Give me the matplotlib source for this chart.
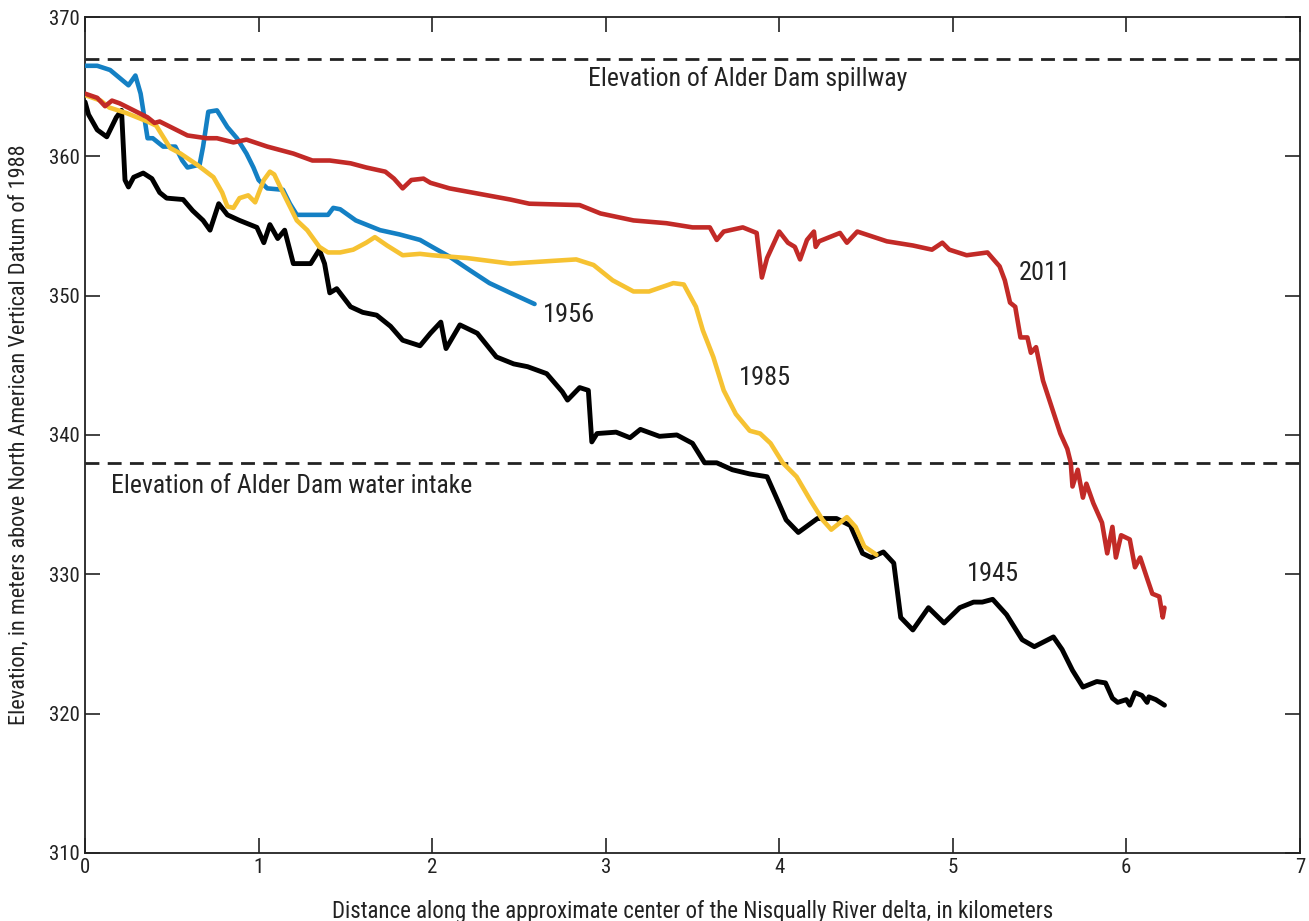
import matplotlib
matplotlib.use("Agg")
from matplotlib import pyplot as plt

plt.rcParams['font.family'] = ['Roboto Condensed', 'Archivo Narrow', 'DejaVu Sans']

# 1945 profile
x_1945 = [0, 0.02, 0.07, 0.125, 0.18, 0.21, 0.23, 0.25, 0.28, 0.335, 0.385, 0.43, 0.47,
          0.565, 0.62, 0.68, 0.72, 0.77, 0.82, 0.89, 0.99, 1.03, 1.065, 1.11, 1.15, 1.20,
          1.30, 1.35, 1.38, 1.41, 1.45, 1.53, 1.60, 1.68, 1.76, 1.83, 1.93, 1.99, 2.05,
          2.07, 2.08, 2.16, 2.26, 2.37, 2.47, 2.55, 2.66, 2.75, 2.78, 2.85, 2.90, 2.92,
          2.95, 3.06, 3.14, 3.20, 3.31, 3.41, 3.50, 3.57, 3.64, 3.73, 3.83, 3.93, 3.98,
          4.04, 4.11, 4.22, 4.33, 4.41, 4.48, 4.53, 4.60, 4.66, 4.70, 4.77, 4.86, 4.95,
          5.04, 5.12, 5.17, 5.23, 5.31, 5.40, 5.47, 5.58, 5.63, 5.69, 5.75, 5.83, 5.88,
          5.92, 5.95, 6.00, 6.02, 6.05, 6.09, 6.12, 6.13, 6.17, 6.22]
y_1945 = [363.9, 363.0, 361.9, 361.4, 362.8, 363.3, 358.3, 357.8, 358.5, 358.8, 358.4,
          357.4, 357.0, 356.9, 356.1, 355.4, 354.7, 356.6, 355.8, 355.4, 354.9, 353.8,
          355.1, 354.1, 354.7, 352.3, 352.3, 353.3, 352.3, 350.2, 350.5, 349.2, 348.8,
          348.6, 347.8, 346.8, 346.4, 347.3, 348.1, 346.8, 346.2, 347.9, 347.3, 345.6,
          345.1, 344.9, 344.4, 343.1, 342.5, 343.4, 343.2, 339.5, 340.1, 340.2, 339.8,
          340.4, 339.9, 340.0, 339.4, 338.0, 338.0, 337.5, 337.2, 337.0, 335.6, 333.9,
          333.0, 334.0, 334.0, 333.5, 331.5, 331.2, 331.6, 330.8, 326.9, 326.0, 327.6,
          326.5, 327.6, 328.0, 328.0, 328.2, 327.1, 325.3, 324.8, 325.5, 324.6, 323.1,
          321.9, 322.3, 322.2, 321.1, 320.8, 321.0, 320.6, 321.5, 321.3, 320.8, 321.2,
          321.0, 320.6]

# 1956 profile
x_1956 = [0, 0.07, 0.144, 0.25, 0.29, 0.32, 0.36, 0.39, 0.45, 0.52, 0.56, 0.59, 0.66,
          0.68, 0.71, 0.76, 0.82, 0.875, 0.93, 0.97, 1.0, 1.05, 1.14, 1.18, 1.22, 1.33,
          1.40, 1.43, 1.47, 1.56, 1.70, 1.81, 1.93, 2.0, 2.10, 2.22, 2.33, 2.45, 2.59]
y_1956 = [366.5, 366.5, 366.2, 365.1, 365.8, 364.5, 361.3, 361.3, 360.7, 360.7, 359.7,
          359.2, 359.4, 360.7, 363.2, 363.3, 362.1, 361.3, 360.2, 359.2, 358.3, 357.7,
          357.6, 356.6, 355.8, 355.8, 355.8, 356.3, 356.2, 355.4, 354.7, 354.4, 354.0,
          353.5, 352.8, 351.8, 350.9, 350.2, 349.4]

# 1985 profile
x_1985 = [0, 0.09, 0.14, 0.24, 0.36, 0.41, 0.45, 0.49, 0.55, 0.645, 0.74, 0.79, 0.82,
          0.855, 0.89, 0.94, 0.98, 1.03, 1.065, 1.09, 1.14, 1.22, 1.28, 1.35, 1.40, 1.47,
          1.545, 1.62, 1.67, 1.74, 1.83, 1.93, 2.0, 2.20, 2.45, 2.70, 2.83, 2.93, 3.04,
          3.16, 3.25, 3.39, 3.45, 3.52, 3.56, 3.62, 3.68, 3.75, 3.83, 3.89, 3.95, 4.02,
          4.10, 4.18, 4.25, 4.30, 4.39, 4.44, 4.49, 4.56]
y_1985 = [364.4, 364.0, 363.5, 363.1, 362.5, 362.2, 361.4, 360.6, 360.2, 359.4, 358.5,
          357.4, 356.4, 356.3, 357.0, 357.2, 356.7, 358.3, 358.9, 358.7, 357.4, 355.4,
          354.7, 353.5, 353.1, 353.1, 353.3, 353.8, 354.2, 353.6, 352.9, 353.0, 352.9,
          352.7, 352.3, 352.5, 352.6, 352.2, 351.1, 350.3, 350.3, 350.9, 350.8, 349.2,
          347.5, 345.6, 343.2, 341.5, 340.3, 340.1, 339.4, 338.0, 337.0, 335.3, 333.9,
          333.2, 334.1, 333.4, 332.0, 331.4]

# 2011 profile
x_2011 = [0, 0.07, 0.115, 0.155, 0.20, 0.28, 0.36, 0.40, 0.43, 0.51, 0.59, 0.70, 0.76,
          0.855, 0.93, 1.05, 1.20, 1.31, 1.41, 1.53, 1.62, 1.73, 1.78, 1.83, 1.88, 1.95,
          1.99, 2.10, 2.45, 2.56, 2.85, 2.97, 3.16, 3.35, 3.50, 3.60, 3.64, 3.68, 3.79,
          3.87, 3.90, 3.93, 4.00, 4.05, 4.09, 4.12, 4.16, 4.20, 4.21, 4.23, 4.35, 4.39,
          4.45, 4.62, 4.77, 4.88, 4.94, 4.98, 5.08, 5.20, 5.27, 5.30, 5.33, 5.36, 5.39,
          5.43, 5.45, 5.48, 5.52, 5.62, 5.66, 5.68, 5.69, 5.72, 5.75, 5.77, 5.81, 5.86,
          5.89, 5.92, 5.94, 5.97, 6.02, 6.05, 6.08, 6.12, 6.15, 6.19, 6.21, 6.22]
y_2011 = [364.5, 364.2, 363.6, 364.0, 363.8, 363.3, 362.8, 362.4, 362.5, 362.0, 361.5,
          361.3, 361.3, 361.0, 361.2, 360.7, 360.2, 359.7, 359.7, 359.5, 359.2, 358.9,
          358.4, 357.7, 358.3, 358.4, 358.1, 357.7, 356.9, 356.6, 356.5, 355.9, 355.4,
          355.2, 354.9, 354.9, 354.0, 354.6, 354.9, 354.5, 351.3, 352.7, 354.6, 353.8,
          353.5, 352.6, 354.0, 354.6, 353.5, 353.9, 354.5, 353.8, 354.6, 353.9, 353.6,
          353.3, 353.8, 353.3, 352.9, 353.1, 352.1, 351.1, 349.5, 349.2, 347.0, 347.0,
          345.9, 346.3, 343.9, 340.1, 339.0, 338.0, 336.3, 337.5, 335.5, 336.5, 335.1,
          333.7, 331.5, 333.4, 331.2, 332.8, 332.5, 330.5, 331.2, 329.7, 328.6, 328.4,
          326.9, 327.6]

spillway = 367.0
water_intake = 338.0

fig = plt.figure(figsize=(13.09, 9.21), dpi=100)
ax = fig.add_axes([0.065, 0.074, 0.928, 0.9075])

# reference elevations of the dam
ax.axhline(spillway, color='#222222', lw=2, ls=(0, (5, 3)))
ax.axhline(water_intake, color='#222222', lw=2, ls=(0, (5, 3)))

ax.plot(x_1945, y_1945, color='black', lw=3.5, solid_joinstyle='round', solid_capstyle='round', zorder=3)
ax.plot(x_1956, y_1956, color='#1480c4', lw=3.3, solid_joinstyle='round', solid_capstyle='round', zorder=3)
ax.plot(x_1985, y_1985, color='#f6c232', lw=3.3, solid_joinstyle='round', solid_capstyle='round', zorder=3)
ax.plot(x_2011, y_2011, color='#c22a27', lw=3.3, solid_joinstyle='round', solid_capstyle='round', zorder=4)

ax.text(3.82, 365.6, 'Elevation of Alder Dam spillway', fontsize=18.5, color='#222222',
        ha='center', va='center')
ax.text(0.15, 336.3, 'Elevation of Alder Dam water intake', fontsize=18.5, color='#222222',
        ha='left', va='center')

lbl = dict(fontsize=19, color='#222222', ha='center', va='center')
ax.text(2.79, 348.6, '1956', **lbl)
ax.text(3.92, 344.1, '1985', **lbl)
ax.text(5.53, 351.6, '2011', **lbl)
ax.text(5.23, 330.0, '1945', **lbl)

ax.set_xlim(0, 7)
ax.set_ylim(310, 370)
ax.set_xticks(range(0, 8))
ax.set_yticks(range(310, 371, 10))
ax.tick_params(direction='in', length=11, width=1.2, top=True, right=True,
               labelsize=15, colors='#222222', pad=4)
for s in ax.spines.values():
    s.set_linewidth(1.3)
    s.set_color('#222222')

ax.set_xlabel('Distance along the approximate center of the Nisqually River delta, in kilometers',
              fontsize=16.5, color='#222222', labelpad=16)
ax.set_ylabel('Elevation, in meters above North American Vertical Datum of 1988',
              fontsize=16, color='#222222', labelpad=14)

fig.savefig('out.png', dpi=100)
